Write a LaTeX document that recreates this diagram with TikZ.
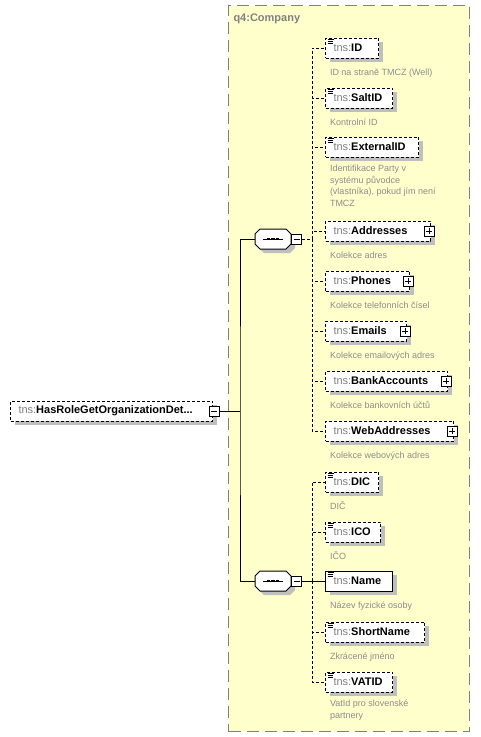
\documentclass[tikz,border=0pt]{standalone}
\usepackage{fontspec}
\setmainfont{Liberation Sans}
\usetikzlibrary{shadows}

\definecolor{groupfill}{RGB}{255,255,204}
\definecolor{groupline}{RGB}{128,128,128}
\definecolor{nsgray}{RGB}{128,128,128}
\definecolor{descgray}{RGB}{140,140,140}

\newcommand{\tns}[1]{{\color{nsgray}tns:}\textbf{#1}}
% octagon round a sequence node
\newcommand{\octpath}[1]{([xshift=5pt]#1.north west) -- ([xshift=-5pt]#1.north east)
  -- ([yshift=-5pt]#1.north east) -- ([yshift=5pt]#1.south east)
  -- ([xshift=-5pt]#1.south east) -- ([xshift=5pt]#1.south west)
  -- ([yshift=5pt]#1.south west) -- ([yshift=-5pt]#1.north west) -- cycle}

\begin{document}
\begin{tikzpicture}[x=1pt,y=-1pt,line width=1pt,
 elem/.style={draw,fill=white,dash pattern=on 3pt off 2pt,minimum height=20pt,
   inner xsep=8pt,inner ysep=0pt,anchor=west,align=left,text width=#1,
   font=\fontsize{11}{13}\selectfont,
   drop shadow={shadow xshift=4pt,shadow yshift=-4pt,fill=black!25,opacity=1}},
 simple/.style={path picture={\draw[solid,line width=0.8pt]
   ([shift={(2pt,-1.5pt)}]path picture bounding box.north west) -- ++(6pt,0pt)
   ++(-6pt,-2pt) -- ++(5pt,0pt) ++(-5pt,-2pt) -- ++(5pt,0pt);}},
 complex/.style={},
 expbox/.style={draw,solid,fill=white,minimum size=10pt,inner sep=0pt},
 minusbox/.style={expbox,path picture={\draw
   ([xshift=-3pt]path picture bounding box.center) -- ([xshift=3pt]path picture bounding box.center);}},
 plusbox/.style={expbox,path picture={\draw
   ([xshift=-3pt]path picture bounding box.center) -- ([xshift=3pt]path picture bounding box.center)
   ([yshift=-3pt]path picture bounding box.center) -- ([yshift=3pt]path picture bounding box.center);}},
 seq/.style={minimum width=35pt,minimum height=19pt,inner sep=0pt,anchor=west},
 desc/.style={anchor=north west,align=left,inner sep=0pt,text=descgray,
   font=\fontsize{9}{11.5}\selectfont,execute at begin node=\rule{0pt}{9pt}},
 link/.style={dash pattern=on 3pt off 2pt}]
\useasboundingbox (0,0) rectangle (480,737);

% group
\node[draw=groupline,fill=groupfill,line width=1.2pt,dash pattern=on 12pt off 6pt,
  minimum width=241pt,minimum height=726pt,anchor=north west] (company) at (228,5) {};
\node[anchor=west,inner sep=0pt,text=nsgray,font=\bfseries\fontsize{11}{13}\selectfont]
  (companylabel) at (233,19) {q4:Company};

% root element
\node[elem=186pt] (root) at (10,411) {\tns{HasRoleGetOrganizationDet...}};
\node[minusbox] (rootexp) at ([xshift=1pt]root.east) {};

% sequences
\node[seq] (seqA) at (255,239) {};
\node[seq] (seqB) at (255,581) {};
\foreach \s in {seqA,seqB} {
  \fill[black!25,transform canvas={shift={(4pt,-4pt)}}] \octpath{\s};
  \draw[fill=white] \octpath{\s};
  \draw (\s.center) +(-10pt,0pt) -- +(10pt,0pt);
  \foreach \d in {-4.5,0,4.5}
    \fill ([xshift=\d pt]\s.center) +(-1.6pt,-1.3pt) rectangle +(1.6pt,1.3pt);
}
\node[minusbox,anchor=west] (seqAexp) at (seqA.east) {};
\node[minusbox,anchor=west] (seqBexp) at (seqB.east) {};

% children
\foreach \n/\y/\w/\k [evaluate=\w as \tw using \w-16] in
  {ID/48/53/simple, SaltID/98/67/simple, ExternalID/147/93/simple,
   Addresses/231/105/complex, Phones/281/84/complex, Emails/331/81/complex,
   BankAccounts/381/122/complex, WebAddresses/431/128/complex,
   DIC/482/53/simple, ICO/532/55/simple, ShortName/632/99/simple, VATID/682/67/simple}
  \node[elem=\tw pt,\k] (\n) at (325,\y) {\tns{\n}};
\node[elem=51pt,simple,solid] (Name) at (325,581) {\tns{Name}};

\foreach \n in {Addresses,Phones,Emails,BankAccounts,WebAddresses}
  \node[plusbox] (\n exp) at ([xshift=-2pt]\n.east) {};

\foreach \n/\d in {ID/{ID na straně TMCZ (Well)}, SaltID/{Kontrolní ID},
   ExternalID/{Identifikace Party v\\systému původce\\(vlastníka), pokud jím není\\TMCZ},
   Addresses/{Kolekce adres}, Phones/{Kolekce telefonních čísel},
   Emails/{Kolekce emailových adres}, BankAccounts/{Kolekce bankovních účtů},
   WebAddresses/{Kolekce webových adres}, DIC/{DIČ}, ICO/{IČO},
   Name/{Název fyzické osoby}, ShortName/{Zkrácené jméno},
   VATID/{VatId pro slovenské\\partnery}}
  \node[desc] (\n desc) at ([shift={(4.5pt,-7pt)}]\n.south west) {\d};

% connectors
\coordinate (trunk) at (240,411);
\coordinate (busA) at (312,239);
\coordinate (busB) at (312,581);
\draw (rootexp.east) -- (trunk);
\draw (seqA.west) -| (trunk) |- (seqB.west);
\draw[link] (seqAexp.east) -- (busA);
\foreach \n in {ID,SaltID,ExternalID,Addresses,Phones,Emails,BankAccounts,WebAddresses}
  \draw[link] (busA) |- (\n.west);
\draw (seqBexp.east) -- (Name.west);
\foreach \n in {DIC,ICO,ShortName,VATID}
  \draw[link] (busB) |- (\n.west);
\end{tikzpicture}
\end{document}
